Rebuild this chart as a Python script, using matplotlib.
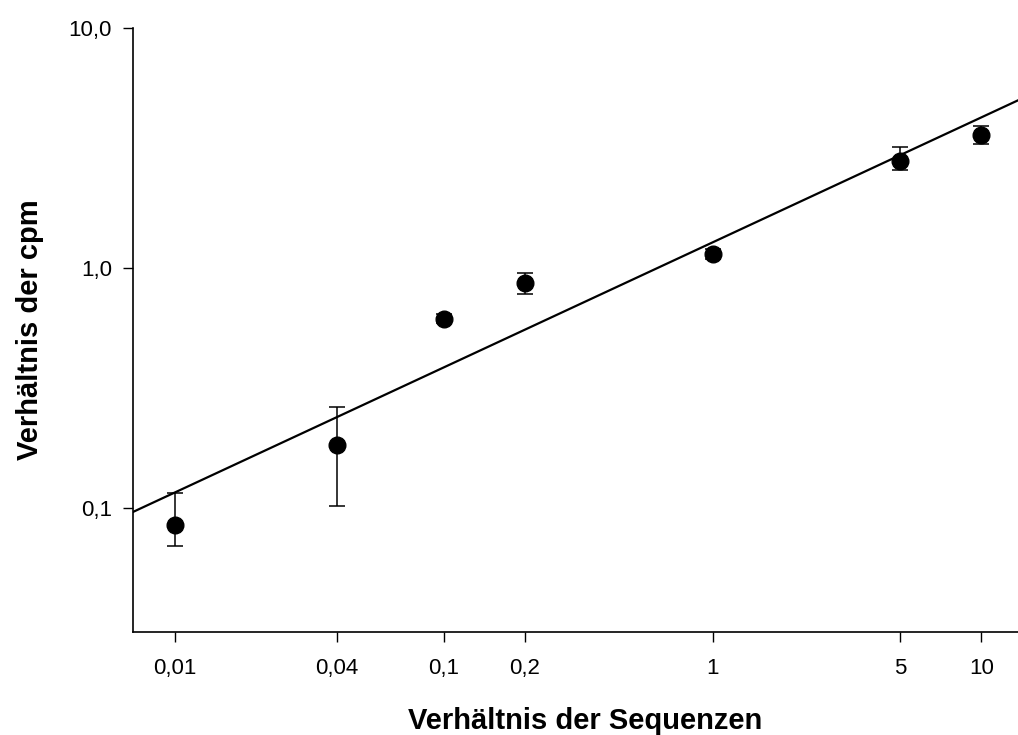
import numpy as np
import matplotlib
matplotlib.use("Agg")
import matplotlib.pyplot as plt
from matplotlib.ticker import FixedLocator, FixedFormatter, NullLocator

plt.rcParams["font.family"] = ["Liberation Sans", "DejaVu Sans"]

# sequence ratio vs. cpm ratio (means and error bar limits)
ratio_seq = [0.01, 0.04, 0.1, 0.2, 1, 5, 10]
ratio_cpm = [0.085, 0.183, 0.613, 0.866, 1.144, 2.79, 3.58]
err_low = [0.0695, 0.102, 0.59, 0.78, 1.09, 2.56, 3.28]
err_high = [0.1155, 0.264, 0.64, 0.953, 1.20, 3.19, 3.91]

# power-law fit y = fit_a * x ** fit_b
fit_a = 1.278
fit_b = 0.521

x_ticks = [0.01, 0.04, 0.1, 0.2, 1, 5, 10]
x_labels = ["0,01", "0,04", "0,1", "0,2", "1", "5", "10"]
y_ticks = [0.1, 1.0, 10.0]
y_labels = ["0,1", "1,0", "10,0"]

fig = plt.figure(figsize=(10.18, 7.35), dpi=100)
ax = fig.add_axes([0.1306, 0.1401, 0.888, 0.8218])
ax.set_xscale("log")
ax.set_yscale("log")
ax.set_xlim(0.00698, 16.1)
ax.set_ylim(0.0304, 10.0)

xs = np.array(ratio_seq)
ys = np.array(ratio_cpm)
yerr = np.vstack([ys - np.array(err_low), np.array(err_high) - ys])
ax.errorbar(xs, ys, yerr=yerr, fmt="o", color="black", markersize=12,
            elinewidth=1.1, capsize=6, capthick=1.1, zorder=3)

xf = np.logspace(np.log10(0.00698), np.log10(16.1), 200)
ax.plot(xf, fit_a * xf ** fit_b, color="black", linewidth=1.6, zorder=2)

ax.xaxis.set_major_locator(FixedLocator(x_ticks))
ax.xaxis.set_major_formatter(FixedFormatter(x_labels))
ax.xaxis.set_minor_locator(NullLocator())
ax.yaxis.set_major_locator(FixedLocator(y_ticks))
ax.yaxis.set_major_formatter(FixedFormatter(y_labels))
ax.yaxis.set_minor_locator(NullLocator())

for side in ("top", "right"):
    ax.spines[side].set_visible(False)
for side in ("left", "bottom"):
    ax.spines[side].set_linewidth(1.2)
ax.tick_params(direction="out", length=7, width=1.0, labelsize=16)
ax.tick_params(axis="x", pad=12)
ax.tick_params(axis="y", pad=8)

ax.set_xlabel("Verhältnis der Sequenzen", fontsize=21, fontweight="bold", labelpad=20)
ax.set_ylabel("Verhältnis der cpm", fontsize=21, fontweight="bold", labelpad=18)

fig.savefig("out.png", dpi=100)
